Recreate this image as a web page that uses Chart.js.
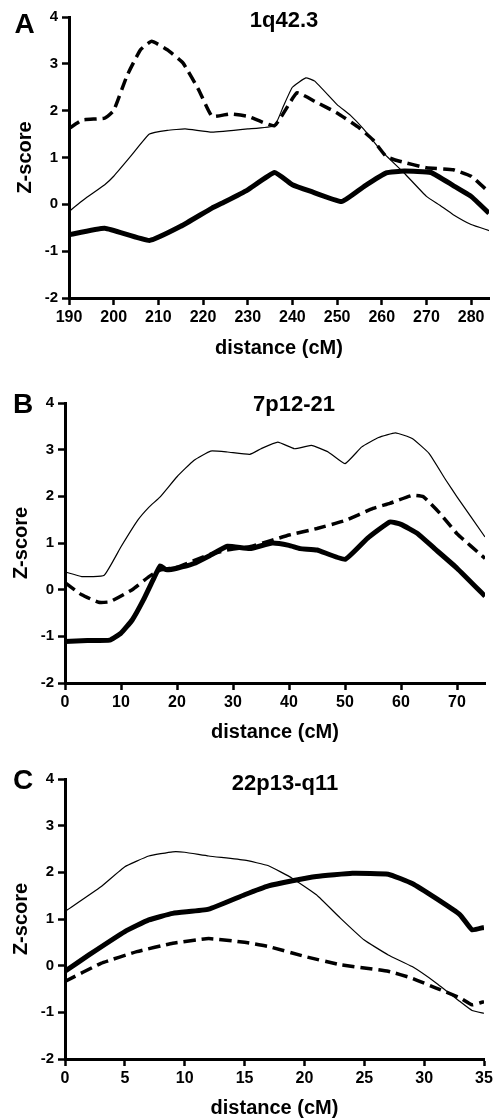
<!DOCTYPE html>
<html>
<head>
<meta charset="utf-8">
<script src="https://cdn.jsdelivr.net/npm/chart.js@4.4.1/dist/chart.umd.min.js"></script>
<style>
html,body{margin:0;padding:0;background:#fff;width:494px;height:1120px;overflow:hidden;}
.panel{position:absolute;left:0;width:494px;}
</style>
</head>
<body>
<div class="panel" style="top:0;height:364px"><canvas id="cA"></canvas></div>
<div class="panel" style="top:370px;height:378px"><canvas id="cB"></canvas></div>
<div class="panel" style="top:750px;height:374px"><canvas id="cC"></canvas></div>
<script>
// ---------- Panel A : 1q42.3 ----------
const aTicks = [190,200,210,220,230,240,250,260,270,280];
const aDashX = [190,193,198,200,203,206,208.5,212,215.5,219,222,226,230,236,241,245,250,255,258,261,264,270,276,280,284];
const aDashY = [1.62,1.80,1.84,2.0,2.75,3.3,3.48,3.30,3.02,2.45,1.88,1.93,1.88,1.68,2.38,2.20,1.95,1.63,1.38,1.02,0.92,0.78,0.74,0.60,0.26];
const aThinX = [190,194,198,200,204,208,212,216,222,230,236,238,240,243,245,250,253,256,260,265,270,273,276,280,284];
const aThinY = [-0.15,0.15,0.42,0.6,1.05,1.5,1.58,1.61,1.54,1.61,1.68,2.1,2.5,2.7,2.63,2.13,1.9,1.6,1.13,0.67,0.17,-0.02,-0.22,-0.43,-0.56];
const aThickX = [190,198,208,215,222,225,230,236,240,244,251,256,261,265,271,276,280,284];
const aThickY = [-0.65,-0.51,-0.77,-0.47,-0.08,0.06,0.31,0.68,0.42,0.28,0.06,0.38,0.67,0.71,0.68,0.40,0.17,-0.19];

// ---------- Panel B : 7p12-21 ----------
const bTicks = [0,10,20,30,40,50,60,70];
const bThinX = [0,3,7,10,13,15,17,20,23,26,29,33,35,38,41,44,47,50,53,56,59,62,65,68,70,75];
const bThinY = [0.38,0.28,0.31,0.92,1.49,1.77,1.99,2.42,2.77,2.97,2.95,2.9,3.02,3.16,3.02,3.09,2.95,2.7,3.06,3.26,3.36,3.24,2.92,2.35,1.99,1.13];
const bDashX = [0,3,6,8,12,15,17,20,23,26,29,33,37,40,45,50,55,58,62,64,67,70,75];
const bDashY = [0.15,-0.11,-0.27,-0.26,0,0.28,0.42,0.48,0.62,0.76,0.85,0.92,1.06,1.17,1.31,1.48,1.74,1.85,2.02,1.99,1.63,1.2,0.67];
const bThickX = [0,4,8,10,12,14,16,17,18,20,23,26,29,33,37,40,42,45,50,54,58,60,63,66,70,75];
const bThickY = [-1.11,-1.09,-1.08,-0.93,-0.65,-0.22,0.28,0.51,0.43,0.46,0.56,0.74,0.93,0.88,1.0,0.95,0.88,0.85,0.65,1.1,1.45,1.4,1.2,0.88,0.46,-0.14];

// ---------- Panel C : 22p13-q11 ----------
const cTicks = [0,5,10,15,20,25,30,35];
const cThinX = [0,3,5,7,9,10,12,15,17,19,21,23,25,27,29,31,33,34,35];
const cThinY = [1.16,1.69,2.12,2.35,2.44,2.43,2.35,2.26,2.14,1.87,1.52,1.02,0.55,0.23,-0.02,-0.37,-0.77,-0.96,-1.02];
const cThickX = [0,2,5,7,9,12,15,17,19,21,24,27,29,31,33,34,35];
const cThickY = [-0.12,0.23,0.73,0.98,1.12,1.21,1.52,1.71,1.82,1.91,1.98,1.96,1.76,1.44,1.09,0.77,0.82];
const cDashX = [0,3,6,9,12,15,17,20,23,27,29,31,33,34,35];
const cDashY = [-0.34,0.05,0.3,0.48,0.58,0.5,0.41,0.2,0.02,-0.12,-0.27,-0.48,-0.69,-0.84,-0.77];

const FONT = "'Liberation Sans', Arial, Helvetica, sans-serif";

function pts(xs, ys){ return xs.map((x,i)=>({x:x, y:ys[i]})); }

function makeChart(id, cfg){
  const textPlugin = {
    id: 'panelText',
    afterDraw(chart){
      const ctx = chart.ctx;
      ctx.save();
      ctx.fillStyle = '#000';
      ctx.textAlign = 'center';
      ctx.textBaseline = 'alphabetic';
      ctx.font = 'bold 22px ' + FONT;
      ctx.fillText(cfg.title, cfg.titleX, cfg.titleY);
      ctx.font = 'bold 28px ' + FONT;
      ctx.fillText(cfg.letter, cfg.letterX, cfg.letterY);
      ctx.restore();
    }
  };
  const line = (data, kind) => {
    const base = {data: data, borderColor:'#000', backgroundColor:'#000', pointRadius:0, fill:false, tension:0.12};
    if (kind === 'thick') return Object.assign(base, {borderWidth:5});
    if (kind === 'thin') return Object.assign(base, {borderWidth:1.2});
    return Object.assign(base, {borderWidth:3.5, borderDash:[12,6]});
  };
  return new Chart(document.getElementById(id), {
    type: 'line',
    data: { datasets: [
      line(cfg.thin, 'thin'),
      line(cfg.dash, 'dash'),
      line(cfg.thick, 'thick')
    ]},
    options: {
      responsive: true,
      maintainAspectRatio: false,
      animation: false,
      devicePixelRatio: 1,
      layout: { padding: { top: cfg.padTop, right: cfg.padRight, left: 0, bottom: 0 } },
      plugins: { legend: {display:false}, tooltip: {enabled:false}, title: {display:false} },
      scales: {
        x: {
          type: 'linear',
          min: cfg.xMin, max: cfg.xMax,
          afterBuildTicks: s => { s.ticks = cfg.ticks.map(v => ({value: v})); },
          afterFit: s => { s.height = cfg.xHeight; s.paddingLeft = 0; s.paddingRight = 0; },
          grid: { display:true, drawOnChartArea:false, drawTicks:true, tickLength:7, tickWidth:2.5, tickColor:'#000' },
          border: { display:true, color:'#000', width:3 },
          ticks: { color:'#000', padding:3, maxRotation:0, autoSkip:false, font:{family:FONT, size:16, weight:'bold'} },
          title: { display:true, text:'distance (cM)', color:'#000', padding:{top:4, bottom:4}, font:{family:FONT, size:20, weight:'bold'} }
        },
        y: {
          type: 'linear',
          min: -2, max: 4,
          afterFit: s => { s.width = cfg.yWidth; s.paddingTop = 0; s.paddingBottom = 0; },
          grid: { display:true, drawOnChartArea:false, drawTicks:true, tickLength:7, tickWidth:2.5, tickColor:'#000' },
          border: { display:true, color:'#000', width:3 },
          ticks: { stepSize:1, color:'#000', padding:4, font:{family:FONT, size:15, weight:'bold'} },
          title: { display:true, text:'Z-score', color:'#000', padding:{top:cfg.yTitlePad, bottom:4}, font:{family:FONT, size:20, weight:'bold'} }
        }
      }
    },
    plugins: [textPlugin]
  });
}

makeChart('cA', {
  title:'1q42.3', titleX:284, titleY:27, letter:'A', letterX:24.5, letterY:33,
  xMin:190, xMax:284, ticks:aTicks, padTop:17, padRight:5, yWidth:69, xHeight:66, yTitlePad:13,
  thin:pts(aThinX,aThinY), dash:pts(aDashX,aDashY), thick:pts(aThickX,aThickY)
});
makeChart('cB', {
  title:'7p12-21', titleX:294, titleY:40.5, letter:'B', letterX:23, letterY:43,
  xMin:0, xMax:75, ticks:bTicks, padTop:33, padRight:9, yWidth:65, xHeight:65, yTitlePad:9,
  thin:pts(bThinX,bThinY), dash:pts(bDashX,bDashY), thick:pts(bThickX,bThickY)
});
makeChart('cC', {
  title:'22p13-q11', titleX:285, titleY:40, letter:'C', letterX:23, letterY:39,
  xMin:0, xMax:35, ticks:cTicks, padTop:29, padRight:10, yWidth:65, xHeight:65, yTitlePad:9,
  thin:pts(cThinX,cThinY), dash:pts(cDashX,cDashY), thick:pts(cThickX,cThickY)
});
</script>
</body>
</html>
